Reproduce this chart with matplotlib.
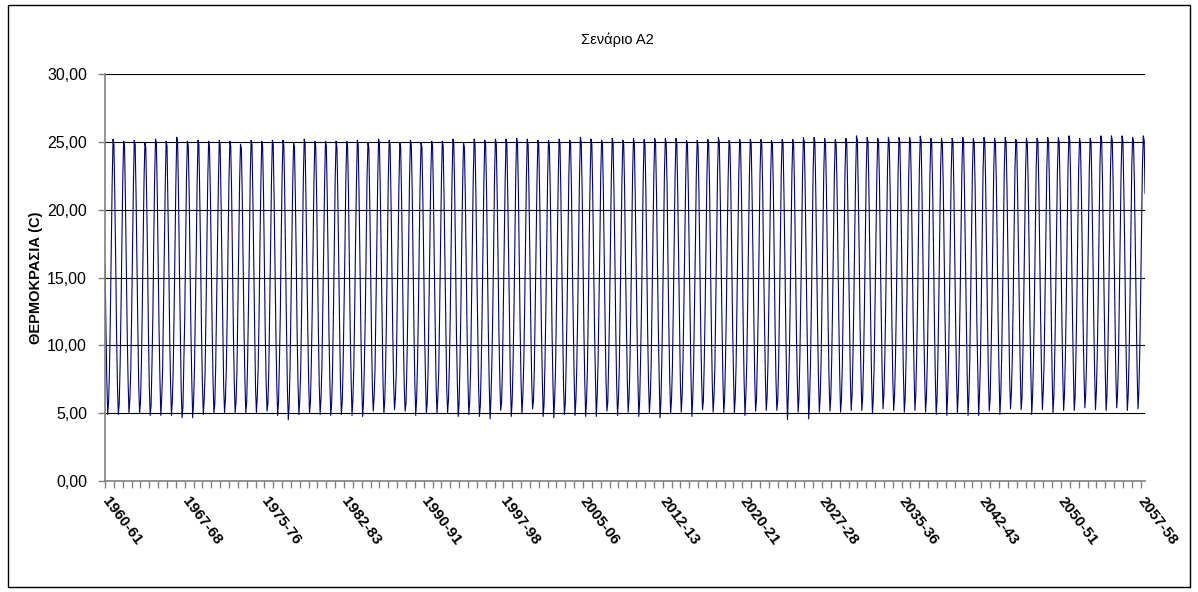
import numpy as np
import matplotlib
matplotlib.use('Agg')
import matplotlib.pyplot as plt
from matplotlib.patches import Rectangle
from matplotlib.ticker import FixedLocator, FuncFormatter

plt.rcParams['font.family'] = ['Liberation Sans', 'DejaVu Sans']

# Μηνιαίες θερμοκρασίες ανά υδρολογικό έτος (Οκτ -> Σεπ), 1960-61 ... 2057-58
oct_t = [16.0,16.3,15.8,16.1,16.4,15.9,16.2,15.7,16.0,16.5,15.9,16.1,16.3,15.8,16.0,16.2,15.6,16.1,16.4,15.9,
         16.0,16.3,15.8,16.2,16.1,15.9,16.4,16.0,15.7,16.2,16.3,15.9,16.1,16.5,16.0,15.8,16.2,16.4,16.1,15.9,
         16.3,16.0,16.6,16.2,15.9,16.4,16.1,16.3,16.5,16.0,16.2,16.6,16.3,16.1,16.4,16.7,16.2,16.5,16.3,16.8,
         16.4,16.6,16.2,16.5,16.9,16.3,16.6,16.4,16.8,16.5,16.7,17.0,16.6,16.4,16.8,16.9,16.5,16.7,17.1,16.8,
         16.6,16.9,17.0,16.7,17.2,16.8,16.9,17.1,16.7,17.0,17.3,16.9,17.1,17.2,16.8,17.0,17.3,17.1]
nov_t = [11.2,10.8,11.0,11.4,10.9,11.1,10.7,11.3,11.0,10.8,11.2,11.5,10.9,11.1,11.3,10.8,11.0,11.2,10.9,11.4,
         11.1,10.8,11.3,11.0,11.2,10.9,11.4,11.1,10.8,11.2,11.0,11.5,11.3,10.9,11.1,11.4,11.2,10.9,11.3,11.1,
         11.5,11.2,11.0,11.4,11.6,11.1,11.3,11.5,11.2,11.7,11.4,11.1,11.6,11.3,11.5,11.8,11.2,11.4,11.7,11.5,
         11.3,11.6,11.9,11.4,11.7,11.5,11.8,11.6,11.3,11.9,11.7,11.5,11.8,12.0,11.6,11.7,11.9,11.5,11.8,12.1,
         11.7,11.9,11.6,12.0,11.8,12.2,11.9,11.7,12.1,11.9,12.0,12.2,11.8,12.1,12.3,11.9,12.0,12.2]
dec_t = [7.3,7.0,7.4,7.1,6.9,7.5,7.2,6.8,7.3,7.1,7.4,7.0,7.2,7.5,6.9,7.3,7.1,6.8,7.2,7.4,
         7.0,7.3,7.1,7.5,7.2,6.9,7.4,7.3,7.0,7.2,7.6,7.1,6.9,7.3,7.4,7.0,7.2,7.5,7.1,7.3,
         7.4,7.6,7.2,7.0,7.5,7.3,7.7,7.4,7.1,7.5,7.6,7.3,7.8,7.4,7.2,7.6,7.5,7.3,7.7,7.9,
         7.4,7.6,7.8,7.5,7.3,7.7,7.9,7.6,7.4,7.8,7.7,8.0,7.6,7.8,7.5,7.9,8.1,7.7,7.8,8.0,
         7.6,7.9,8.1,7.8,8.0,7.7,8.2,7.9,8.1,7.8,8.0,8.3,7.9,8.1,8.2,7.8,8.0,8.2]
jan_t = [4.90,4.90,5.00,5.00,4.83,4.83,4.83,4.66,4.66,4.90,5.00,5.00,5.00,5.00,5.00,5.15,4.83,4.51,4.90,5.00,
         4.90,4.83,4.90,4.83,4.76,5.15,4.95,5.25,5.15,4.83,4.95,4.95,5.00,4.76,4.90,4.76,4.58,5.20,4.76,4.95,
         5.32,4.76,4.66,4.90,4.83,4.76,4.76,5.15,4.83,5.07,4.76,5.00,4.66,4.95,5.07,4.76,5.25,5.07,5.00,5.00,
         4.83,5.15,5.20,5.20,4.51,5.07,4.58,5.07,5.15,5.07,5.20,5.20,4.95,5.32,5.20,5.07,5.20,5.07,4.90,4.83,
         5.00,4.83,4.83,5.15,4.90,5.32,5.25,4.90,5.25,5.00,5.20,5.20,5.39,5.25,5.20,5.39,5.20,5.32]
feb_t = [5.9,5.7,6.0,5.8,5.6,6.1,5.9,5.5,5.8,6.0,5.7,6.1,5.9,5.8,6.2,5.7,5.9,5.6,6.0,5.8,
         6.1,5.7,5.9,6.0,5.8,6.2,5.9,6.1,5.7,6.0,5.8,6.2,6.0,5.7,5.9,5.6,6.1,5.8,6.0,6.2,
         5.9,5.7,6.1,5.8,6.0,5.9,6.2,5.8,6.0,6.1,5.9,6.2,5.8,6.0,6.3,6.1,5.9,6.2,6.0,6.1,
         6.3,6.0,6.2,5.9,6.4,6.1,6.0,6.3,6.2,6.0,6.4,6.2,6.1,6.5,6.3,6.1,6.4,6.2,6.0,6.3,
         6.5,6.2,6.4,6.1,6.3,6.5,6.2,6.4,6.6,6.3,6.4,6.2,6.5,6.6,6.3,6.5,6.4,6.6]
mar_t = [8.2,8.5,8.0,8.4,8.6,8.1,8.3,8.7,8.2,8.0,8.5,8.3,8.1,8.6,8.4,8.2,8.8,8.3,8.0,8.5,
         8.4,8.1,8.6,8.3,8.7,8.2,8.5,8.0,8.4,8.6,8.3,8.1,8.5,8.8,8.2,8.4,8.6,8.3,8.7,8.5,
         8.2,8.6,8.4,8.8,8.5,8.3,8.7,8.9,8.4,8.6,8.8,8.5,8.7,8.4,9.0,8.6,8.8,8.5,8.9,8.7,
         8.6,9.0,8.8,8.5,8.9,9.1,8.7,8.8,9.0,8.6,9.2,8.9,8.7,9.1,8.9,9.0,9.3,8.8,9.1,8.9,
         9.2,9.0,8.8,9.3,9.1,9.0,9.4,9.1,8.9,9.3,9.2,9.5,9.0,9.2,9.4,9.1,9.3,9.5]
apr_t = [12.3,12.6,12.1,12.5,12.2,12.7,12.4,12.0,12.5,12.3,12.8,12.2,12.4,12.6,12.1,12.5,12.3,12.7,12.2,12.4,
         12.6,12.3,12.8,12.5,12.1,12.6,12.4,12.7,12.3,12.5,12.9,12.4,12.2,12.6,12.8,12.5,12.3,12.7,12.6,12.4,
         12.8,12.5,12.9,12.7,12.4,12.8,13.0,12.6,12.9,12.7,12.5,13.0,12.8,12.6,13.1,12.9,12.7,13.0,12.8,13.2,
         12.9,12.7,13.1,13.0,12.8,13.2,12.9,13.3,13.1,12.9,13.2,13.0,13.4,13.1,12.9,13.3,13.2,13.0,13.4,13.2,
         13.1,13.5,13.2,13.0,13.4,13.3,13.6,13.2,13.4,13.5,13.3,13.6,13.4,13.2,13.5,13.7,13.4,13.6]
may_t = [17.1,17.4,16.9,17.3,17.6,17.0,17.2,17.5,16.8,17.3,17.1,17.6,17.2,16.9,17.4,17.2,17.7,17.0,17.3,17.5,
         17.1,17.4,17.0,17.6,17.3,17.2,17.5,16.9,17.4,17.7,17.2,17.4,17.1,17.6,17.3,17.5,17.0,17.4,17.8,17.3,
         17.5,17.2,17.7,17.4,17.6,17.9,17.3,17.6,17.8,17.5,17.7,17.4,18.0,17.6,17.8,17.5,17.9,17.7,18.1,17.6,
         17.8,18.0,17.7,18.2,17.9,17.6,18.1,17.9,18.0,17.7,18.2,18.0,17.8,18.3,18.1,17.9,18.2,18.0,18.4,18.1,
         17.9,18.3,18.2,18.0,18.4,18.2,18.5,18.1,18.3,18.4,18.2,18.6,18.3,18.1,18.5,18.4,18.2,18.6]
jun_t = [21.9,22.2,21.7,22.1,22.3,21.8,22.0,22.4,21.9,22.1,21.7,22.2,22.0,22.3,21.8,22.1,22.4,21.9,22.2,22.0,
         21.8,22.3,22.1,21.9,22.4,22.0,22.2,21.8,22.3,22.1,22.5,22.0,22.2,21.9,22.4,22.1,22.3,22.0,22.5,22.2,
         22.1,22.4,22.2,22.6,22.3,22.1,22.5,22.4,22.2,22.6,22.3,22.5,22.7,22.4,22.2,22.6,22.5,22.8,22.4,22.6,
         22.5,22.7,22.4,22.8,22.6,22.5,22.9,22.7,22.6,22.8,22.5,22.9,22.7,23.0,22.8,22.6,22.9,22.7,23.0,22.8,
         22.7,23.0,22.9,22.8,23.1,22.9,22.8,23.1,23.0,22.9,23.2,23.0,22.9,23.2,23.1,23.0,23.2,23.1]
jul_t = [25.20,25.05,25.12,24.93,25.20,25.05,25.34,25.05,25.12,25.05,25.12,25.05,24.83,25.12,25.05,25.12,25.12,24.93,25.20,25.05,
         25.05,25.05,25.05,25.12,24.93,25.20,25.12,24.93,25.12,24.93,25.05,25.05,25.20,24.93,25.20,25.12,25.20,25.20,25.27,25.20,
         25.12,25.12,25.20,25.12,25.34,25.20,25.12,25.27,25.12,25.25,25.17,25.25,25.25,25.25,25.10,25.10,25.17,25.32,25.10,25.17,
         25.17,25.17,25.10,25.17,25.17,25.32,25.32,25.25,25.17,25.25,25.44,25.32,25.25,25.32,25.32,25.32,25.42,25.25,25.25,25.25,
         25.32,25.25,25.32,25.25,25.32,25.17,25.25,25.25,25.32,25.32,25.44,25.25,25.25,25.44,25.44,25.44,25.32,25.44]
aug_t = [24.8,24.7,24.8,24.6,24.9,24.7,24.9,24.7,24.8,24.6,24.8,24.7,24.5,24.8,24.7,24.8,24.7,24.6,24.9,24.7,
         24.7,24.6,24.7,24.8,24.6,24.9,24.8,24.6,24.8,24.6,24.7,24.7,24.9,24.6,24.8,24.8,24.9,24.8,24.9,24.8,
         24.8,24.7,24.9,24.8,25.0,24.8,24.8,24.9,24.8,24.9,24.8,24.9,24.9,24.9,24.8,24.7,24.8,25.0,24.8,24.8,
         24.9,24.8,24.8,24.9,24.8,25.0,25.0,24.9,24.8,24.9,25.1,25.0,24.9,25.0,25.0,25.0,25.1,24.9,24.9,25.0,
         25.0,24.9,25.0,24.9,25.0,24.9,24.9,25.0,25.0,25.0,25.1,24.9,25.0,25.1,25.1,25.1,25.0,25.1]
sep_t = [21.0,20.8,21.2,20.9,21.1,20.7,21.0,21.3,20.9,21.1,20.8,21.2,21.0,20.9,21.3,20.8,21.1,21.0,20.7,21.2,
         21.1,20.9,21.3,21.0,20.8,21.2,21.1,20.9,21.4,21.0,21.2,20.9,21.3,21.1,21.0,21.4,21.2,20.9,21.3,21.1,
         21.2,21.4,21.0,21.3,21.5,21.1,21.3,21.2,21.5,21.0,21.4,21.3,21.6,21.2,21.4,21.1,21.5,21.3,21.6,21.4,
         21.2,21.5,21.7,21.3,21.4,21.6,21.2,21.5,21.7,21.4,21.3,21.6,21.8,21.4,21.5,21.7,21.3,21.6,21.8,21.5,
         21.4,21.7,21.5,21.9,21.6,21.4,21.8,21.6,21.7,21.5,21.9,21.6,21.4,21.8,21.7,21.5,21.8,21.2]

tick_labels = ['1960-61', '1967-68', '1975-76', '1982-83', '1990-91', '1997-98', '2005-06',
               '2012-13', '2020-21', '2027-28', '2035-36', '2042-43', '2050-51', '2057-58']

months = [oct_t, nov_t, dec_t, jan_t, feb_t, mar_t, apr_t, may_t, jun_t, jul_t, aug_t, sep_t]
temp = np.array(months).T.ravel()   # σειρά κατά μήνα
x = np.arange(len(temp))

fig = plt.figure(figsize=(11.98, 5.92), dpi=100)
ax = fig.add_axes([0.0877, 0.1875, 0.8681, 0.6875])

ax.plot(x, temp, color='#000080', lw=0.8)

ax.set_xlim(0, len(temp) - 1)
ax.set_ylim(0, 30)
ax.set_yticks(np.arange(0, 31, 5))
ax.yaxis.set_major_formatter(FuncFormatter(lambda v, p: f'{v:.2f}'.replace('.', ',')))
ax.grid(axis='y', color='black', lw=0.8)
ax.set_axisbelow(True)

step = 90
ax.xaxis.set_major_locator(FixedLocator(np.arange(0, len(temp), step)))
ax.xaxis.set_minor_locator(FixedLocator(np.arange(0, len(temp), 10)))
ax.set_xticklabels(tick_labels, rotation=-53, ha='left', va='center',
                   rotation_mode='anchor', fontsize=11, fontweight='bold')
ax.tick_params(axis='x', which='both', length=5, width=1, color='#808080', pad=8)
ax.tick_params(axis='y', length=5, width=1, color='#808080', labelsize=11.5, pad=8)

for s in ['top', 'right']:
    ax.spines[s].set_visible(False)
for s in ['left', 'bottom']:
    ax.spines[s].set_color('#808080')
    ax.spines[s].set_linewidth(1.2)

ax.set_ylabel('ΘΕΡΜΟΚΡΑΣΙΑ (C)', fontsize=10.5, fontweight='bold', labelpad=3)
fig.text(0.515, 0.933, 'Σενάριο A2', ha='center', va='center', fontsize=10.5)

fig.patches.append(Rectangle((0.007, 0.008), 0.986, 0.984, transform=fig.transFigure,
                             fill=False, edgecolor='black', lw=1))

fig.savefig('out.png', dpi=100)
